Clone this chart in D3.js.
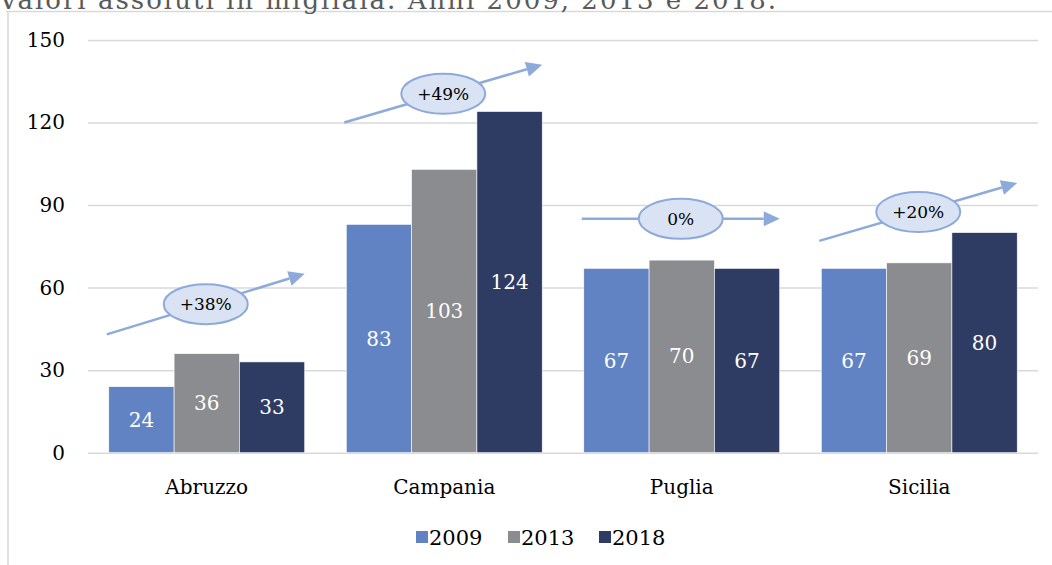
<html><head>
<meta http-equiv="Content-Type" content="text/html; charset=UTF-8">
<style>
body{margin:0;background:#fff}
svg text{font-family:"DejaVu Serif",serif}
.grid line{stroke:#d9d9d9;stroke-width:1.5}
.grid text{font-size:20px;fill:#000}
.cat{font-size:20px;fill:#000}
.val{font-size:20px;fill:#fff}
.leg{font-size:21px;fill:#000}
.note{font-size:17px;fill:#000}
</style>
<script src="https://cdn.jsdelivr.net/npm/d3@7"></script>
</head><body>
<svg id="chart" width="1052" height="565"></svg>
<script>
// data
var regions = ["Abruzzo", "Campania", "Puglia", "Sicilia"];
var years = ["2009", "2013", "2018"];
var v2009 = [24, 83, 67, 67];
var v2013 = [36, 103, 70, 69];
var v2018 = [33, 124, 67, 80];
var yTicks = [0, 30, 60, 90, 120, 150];
// trend arrows: value at start / end, label
var trendFrom = [43, 120, 85, 77];
var trendTo = [65, 141, 85, 98];
var trendLabel = ["+38%", "+49%", "0%", "+20%"];
var colors = {"2009": "#6183c3", "2013": "#8b8c90", "2018": "#2e3b62"};

var svg = d3.select("#chart");

// frame (top/left edge of the cropped chart box)
svg.append("line").attr("x1", 6).attr("x2", 1052).attr("y1", 11.5).attr("y2", 11.5)
  .attr("stroke", "#d9d9d9").attr("stroke-width", 1.5);
svg.append("line").attr("x1", 8).attr("x2", 8).attr("y1", 11).attr("y2", 565)
  .attr("stroke", "#d9d9d9").attr("stroke-width", 1.5);

// cropped title
svg.append("text").attr("x", -1).attr("y", 8.5).attr("fill", "#595959")
  .style("font-size", "26px").attr("textLength", 777)
  .text("Valori assoluti in migliaia. Anni 2009, 2013 e 2018.");

var x = d3.scaleBand().domain(regions).range([88, 1038]).paddingInner(0.175).paddingOuter(0.0875);
var xi = d3.scaleBand().domain(years).range([0, x.bandwidth()]);
var y = d3.scaleLinear().domain([0, 150]).range([452.7, 40]);

var gAxis = svg.append("g").attr("class", "grid").attr("transform", "translate(88,0)")
  .call(d3.axisLeft(y).tickValues(yTicks).tickSize(-950).tickPadding(23));
gAxis.select(".domain").remove();

var rows = regions.map(function(r, i){
  return {region: r, vals: [v2009[i], v2013[i], v2018[i]]};
});

var groups = svg.selectAll(".grp").data(rows).enter().append("g")
  .attr("transform", function(d){ return "translate(" + x(d.region) + ",0)"; });

var bars = groups.selectAll("g.bar").data(function(d){
  return d.vals.map(function(v, j){ return {year: years[j], v: v}; });
}).enter().append("g").attr("class", "bar");

bars.append("rect")
  .attr("x", function(d){ return xi(d.year); })
  .attr("width", xi.bandwidth())
  .attr("y", function(d){ return y(d.v); })
  .attr("height", function(d){ return y(0) - y(d.v); })
  .attr("fill", function(d){ return colors[d.year]; })
  .attr("stroke", "#fff").attr("stroke-width", 0.6);

bars.append("text").attr("class", "val")
  .attr("text-anchor", "middle")
  .attr("x", function(d){ return xi(d.year) + xi.bandwidth() / 2; })
  .attr("y", function(d){ return (y(d.v) + y(0)) / 2; })
  .attr("dy", "0.35em")
  .text(function(d){ return d.v; });

// category labels
svg.selectAll(".cat").data(regions).enter().append("text").attr("class", "cat")
  .attr("text-anchor", "middle")
  .attr("x", function(d){ return x(d) + x.bandwidth() / 2; })
  .attr("y", 494)
  .text(function(d){ return d; });

// trend arrows with ellipse labels
var arrowCol = "#8eaadb";
regions.forEach(function(r, i){
  var x0 = x(r) - 2, x1 = x(r) + x.bandwidth();
  var y0 = y(trendFrom[i]), y1 = y(trendTo[i]);
  var dx = x1 - x0, dy = y1 - y0, len = Math.sqrt(dx * dx + dy * dy);
  var ux = dx / len, uy = dy / len, hl = 16, hw = 7.5;
  var bx = x1 - ux * hl, by = y1 - uy * hl;
  var g = svg.append("g");
  g.append("line").attr("x1", x0).attr("y1", y0).attr("x2", bx).attr("y2", by)
    .attr("stroke", arrowCol).attr("stroke-width", 2.5);
  g.append("path")
    .attr("d", "M" + x1 + "," + y1 + "L" + (bx - uy * hw) + "," + (by + ux * hw) +
      "L" + (bx + uy * hw) + "," + (by - ux * hw) + "Z")
    .attr("fill", arrowCol);
  var cx = (x0 + x1) / 2, cy = (y0 + y1) / 2;
  g.append("ellipse").attr("cx", cx).attr("cy", cy).attr("rx", 42).attr("ry", 20)
    .attr("fill", "#dae3f3").attr("stroke", arrowCol).attr("stroke-width", 2);
  g.append("text").attr("class", "note").attr("text-anchor", "middle")
    .attr("x", cx).attr("y", cy).attr("dy", "0.35em").text(trendLabel[i]);
});

// legend
var legX = [416, 508, 599];
var leg = svg.selectAll(".legi").data(years).enter().append("g")
  .attr("transform", function(d, i){ return "translate(" + legX[i] + ",537)"; });
leg.append("rect").attr("x", 0).attr("y", -6).attr("width", 12).attr("height", 12)
  .attr("fill", function(d){ return colors[d]; });
leg.append("text").attr("class", "leg").attr("x", 13).attr("y", 0).attr("dy", "0.36em")
  .text(function(d){ return d; });
</script>
</body></html>
